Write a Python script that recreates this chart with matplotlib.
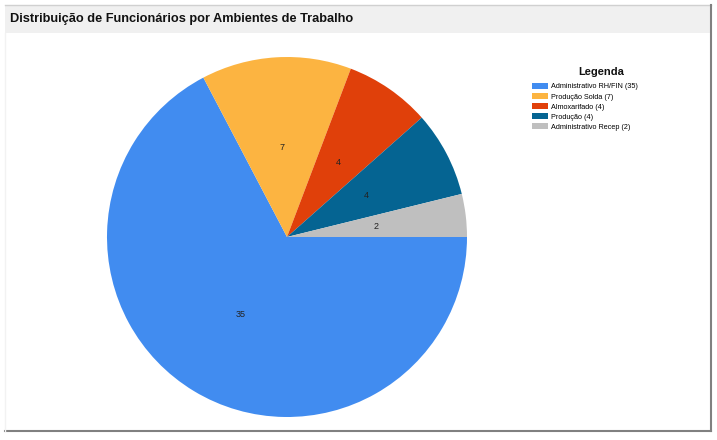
import matplotlib.pyplot as plt
from matplotlib.patches import Rectangle
from matplotlib.lines import Line2D

# Data
categorias = ['Administrativo RH/FIN', 'Produção Solda', 'Almoxarifado', 'Produção', 'Administrativo Recep']
valores = [35, 7, 4, 4, 2]
cores = ['#418CF0', '#FCB441', '#E0400A', '#056492', '#BFBFBF']

plt.rcParams['font.family'] = ['Liberation Sans', 'DejaVu Sans']

fig = plt.figure(figsize=(7.17, 4.40), dpi=100)
W, H = 717, 440

# Frame and title bar
fig.patches.append(Rectangle((5 / W, 1 - 33 / H), 706 / W, 28 / H, transform=fig.transFigure,
                             facecolor='#f0f0f0', edgecolor='none', zorder=0))
fig.lines.append(Line2D([5 / W, 711 / W], [1 - 5 / H, 1 - 5 / H], transform=fig.transFigure,
                        color='#d0d0d0', lw=1))
fig.lines.append(Line2D([711 / W, 711 / W], [1 - 5 / H, 1 - 431 / H], transform=fig.transFigure,
                        color='#808080', lw=1.5))
fig.lines.append(Line2D([5 / W, 711 / W], [1 - 431 / H, 1 - 431 / H], transform=fig.transFigure,
                        color='#808080', lw=1.5))
fig.lines.append(Line2D([5 / W, 5 / W], [1 - 33 / H, 1 - 431 / H], transform=fig.transFigure,
                        color='#f2f2f2', lw=1))

fig.text(10 / W, 1 - 19 / H, 'Distribuição de Funcionários por Ambientes de Trabalho',
         fontsize=9.2, fontweight='bold', va='center', ha='left', color='#111111')

# Pie
cx, cy, r = 287, 237, 180
ax = fig.add_axes([(cx - r) / W, (H - cy - r) / H, 2 * r / W, 2 * r / H])
wedges, texts = ax.pie(valores, colors=cores, startangle=0, counterclock=False,
                       labels=[str(v) for v in valores], labeldistance=0.5,
                       textprops={'fontsize': 6.5, 'color': '#222222'})
for t in texts:
    t.set_ha('center')
    t.set_va('center')
ax.set_xlim(-1, 1)
ax.set_ylim(-1, 1)
ax.set_aspect('equal')
ax.axis('off')

# Legend
fig.text(601 / W, 1 - 72 / H, 'Legenda', fontsize=8, fontweight='bold',
         ha='center', va='center', color='#111111')
rotulos = [f'{c} ({v})' for c, v in zip(categorias, valores)]
leg = fig.legend(wedges, rotulos, loc='upper left',
                 bbox_to_anchor=(532 / W, 1 - 83 / H), frameon=False,
                 fontsize=5.2, handlelength=2.2, handleheight=0.85, handletextpad=0.45,
                 labelspacing=0.38, borderaxespad=0, borderpad=0)

fig.savefig('out.png', dpi=100)
